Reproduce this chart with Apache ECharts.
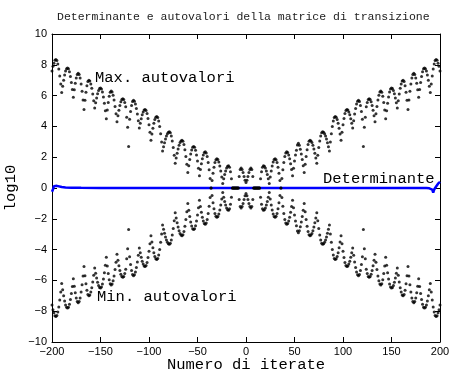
<!DOCTYPE html>
<html><head><meta charset="utf-8">
<script src="https://cdn.jsdelivr.net/npm/echarts@6/dist/echarts.min.js"></script>
<style>html,body{margin:0;padding:0;background:#fff}#c{width:449px;height:374px}</style>
</head><body><div id="c"></div>
<script>
// iterate numbers run from iterStart in steps of one
const iterStart = -200;
// log10 of the largest eigenvalue, one value per iterate (-200 .. 200)
const maxVals = [
7.6,7.9,8.1,8.3,8.35,8.28,8.06,7.72,7.28,6.76,
6.2,6.61,7.0,7.33,7.59,7.75,7.8,7.74,7.55,7.24,
6.85,6.39,5.9,6.38,6.81,7.15,7.37,7.45,7.37,7.14,
6.76,6.28,5.71,5.1,5.69,6.22,6.64,6.91,7.0,6.94,
6.76,6.47,6.1,5.67,5.2,5.54,5.85,6.12,6.33,6.46,
6.5,6.43,6.23,5.91,5.5,5.02,4.5,5.06,5.56,5.96,
6.21,6.3,6.23,6.03,5.71,5.3,4.82,4.3,4.69,5.05,
5.36,5.6,5.75,5.8,5.74,5.56,5.27,4.6,3.95,2.7,
4.46,4.96,5.36,5.61,5.7,5.64,5.46,5.17,4.8,4.37,
3.9,4.21,4.5,4.75,4.94,5.06,5.1,5.03,4.83,4.51,
4.1,3.62,3.1,3.5,3.88,4.2,4.44,4.6,4.65,4.57,
4.35,3.99,3.53,2.98,2.4,2.68,2.94,3.18,3.38,3.53,
3.62,3.65,3.58,3.38,3.05,2.63,2.13,1.6,1.94,2.25,
2.54,2.77,2.95,3.06,3.1,3.03,2.82,2.48,2.05,1.54,
1.0,1.44,1.85,2.2,2.47,2.64,2.7,2.64,2.45,2.14,
1.75,1.29,0.8,1.2,1.58,1.9,2.14,2.3,2.35,2.27,
2.04,1.66,1.18,0.61,0,0.49,0.95,1.34,1.65,1.84,
1.9,1.85,1.69,1.43,1.1,0.71,0.3,0.6,0.88,1.11,
1.3,1.41,1.45,1.35,1.05,0.6,0,0,0,0,
0,0,0,0.75,1.2,1.3,1.2,1.0,0.75,0.5,
0.35,
0.5,0.75,1.0,1.2,1.3,1.2,0.75,0,0,0,
0,0,0,0,0.6,1.05,1.35,1.45,1.41,1.3,
1.11,0.88,0.6,0.3,0.71,1.1,1.43,1.69,1.85,1.9,
1.84,1.65,1.34,0.95,0.49,0,0.61,1.18,1.66,2.04,
2.27,2.35,2.3,2.14,1.9,1.58,1.2,0.8,1.29,1.75,
2.14,2.45,2.8,2.9,2.78,2.52,2.2,1.85,1.44,1.0,
1.54,2.05,2.48,2.82,3.03,3.1,3.06,2.95,2.77,2.54,
2.25,1.94,1.6,2.13,2.63,3.05,3.38,3.58,3.65,3.62,
3.53,3.38,3.18,2.94,2.68,2.4,2.98,3.53,3.99,4.35,
4.57,4.65,4.6,4.44,4.2,3.88,3.5,3.1,3.62,4.1,
4.51,4.83,5.03,5.1,5.06,4.94,4.75,4.5,4.21,3.9,
4.37,4.8,5.17,5.46,5.64,5.7,5.61,5.36,4.96,4.46,
2.7,3.95,4.6,5.27,5.56,5.74,5.8,5.75,5.6,5.36,
5.05,4.69,4.3,4.82,5.3,5.71,6.03,6.23,6.3,6.21,
5.96,5.56,5.06,4.5,5.02,5.5,5.91,6.23,6.43,6.5,
6.46,6.33,6.12,5.85,5.54,5.2,5.67,6.1,6.47,6.76,
6.94,7.0,6.91,6.64,6.22,5.69,5.1,5.71,6.28,6.76,
7.14,7.37,7.45,7.37,7.15,6.81,6.38,5.9,6.39,6.85,
7.24,7.55,7.74,7.8,7.75,7.59,7.33,7.0,6.61,6.2,
6.76,7.28,7.72,8.06,8.28,8.35,8.3,8.1,7.9,7.6
];
// log10 of the smallest eigenvalue, one value per iterate (-200 .. 200)
const minVals = [
-7.6,-7.9,-8.1,-8.3,-8.35,-8.28,-8.06,-7.72,-7.28,-6.76,
-6.2,-6.61,-7.0,-7.33,-7.59,-7.75,-7.8,-7.74,-7.55,-7.24,
-6.85,-6.39,-5.9,-6.38,-6.81,-7.15,-7.37,-7.45,-7.37,-7.14,
-6.76,-6.28,-5.71,-5.1,-5.69,-6.22,-6.64,-6.91,-7.0,-6.94,
-6.76,-6.47,-6.1,-5.67,-5.2,-5.54,-5.85,-6.12,-6.33,-6.46,
-6.5,-6.43,-6.23,-5.91,-5.5,-5.02,-4.5,-5.06,-5.56,-5.96,
-6.21,-6.3,-6.23,-6.03,-5.71,-5.3,-4.82,-4.3,-4.69,-5.05,
-5.36,-5.6,-5.75,-5.8,-5.74,-5.56,-5.27,-4.6,-3.95,-2.7,
-4.46,-4.96,-5.36,-5.61,-5.7,-5.64,-5.46,-5.17,-4.8,-4.37,
-3.9,-4.21,-4.5,-4.75,-4.94,-5.06,-5.1,-5.03,-4.83,-4.51,
-4.1,-3.62,-3.1,-3.5,-3.88,-4.2,-4.44,-4.6,-4.65,-4.57,
-4.35,-3.99,-3.53,-2.98,-2.4,-2.68,-2.94,-3.18,-3.38,-3.53,
-3.62,-3.65,-3.58,-3.38,-3.05,-2.63,-2.13,-1.6,-1.94,-2.25,
-2.54,-2.77,-2.95,-3.06,-3.1,-3.03,-2.82,-2.48,-2.05,-1.54,
-1.0,-1.44,-1.85,-2.2,-2.47,-2.64,-2.7,-2.64,-2.45,-2.14,
-1.75,-1.29,-0.8,-1.2,-1.58,-1.9,-2.14,-2.3,-2.35,-2.27,
-2.04,-1.66,-1.18,-0.61,0,-0.49,-0.95,-1.34,-1.65,-1.84,
-1.9,-1.85,-1.69,-1.43,-1.1,-0.71,-0.3,-0.6,-0.88,-1.11,
-1.3,-1.41,-1.45,-1.35,-1.05,-0.6,0,0,0,0,
0,0,0,-0.75,-1.2,-1.3,-1.2,-1.0,-0.75,-0.5,
-0.35,
-0.5,-0.75,-1.0,-1.2,-1.3,-1.2,-0.75,0,0,0,
0,0,0,0,-0.6,-1.05,-1.35,-1.45,-1.41,-1.3,
-1.11,-0.88,-0.6,-0.3,-0.71,-1.1,-1.43,-1.69,-1.85,-1.9,
-1.84,-1.65,-1.34,-0.95,-0.49,0,-0.61,-1.18,-1.66,-2.04,
-2.27,-2.35,-2.3,-2.14,-1.9,-1.58,-1.2,-0.8,-1.29,-1.75,
-2.14,-2.45,-2.8,-2.9,-2.78,-2.52,-2.2,-1.85,-1.44,-1.0,
-1.54,-2.05,-2.48,-2.82,-3.03,-3.1,-3.06,-2.95,-2.77,-2.54,
-2.25,-1.94,-1.6,-2.13,-2.63,-3.05,-3.38,-3.58,-3.65,-3.62,
-3.53,-3.38,-3.18,-2.94,-2.68,-2.4,-2.98,-3.53,-3.99,-4.35,
-4.57,-4.65,-4.6,-4.44,-4.2,-3.88,-3.5,-3.1,-3.62,-4.1,
-4.51,-4.83,-5.03,-5.1,-5.06,-4.94,-4.75,-4.5,-4.21,-3.9,
-4.37,-4.8,-5.17,-5.46,-5.64,-5.7,-5.61,-5.36,-4.96,-4.46,
-2.7,-3.95,-4.6,-5.27,-5.56,-5.74,-5.8,-5.75,-5.6,-5.36,
-5.05,-4.69,-4.3,-4.82,-5.3,-5.71,-6.03,-6.23,-6.3,-6.21,
-5.96,-5.56,-5.06,-4.5,-5.02,-5.5,-5.91,-6.23,-6.43,-6.5,
-6.46,-6.33,-6.12,-5.85,-5.54,-5.2,-5.67,-6.1,-6.47,-6.76,
-6.94,-7.0,-6.91,-6.64,-6.22,-5.69,-5.1,-5.71,-6.28,-6.76,
-7.14,-7.37,-7.45,-7.37,-7.15,-6.81,-6.38,-5.9,-6.39,-6.85,
-7.24,-7.55,-7.74,-7.8,-7.75,-7.59,-7.33,-7.0,-6.61,-6.2,
-6.76,-7.28,-7.72,-8.06,-8.28,-8.35,-8.3,-8.1,-7.9,-7.6
];
// log10 of the determinant
const detIter = [-200,-199,-198,-197,-196,-195,-193,-190,-186,-180,-170,-150,-100,-50,0,50,100,150,170,180,186,189,191,192,193,194,195,196,197,198,199,200];
const detVals = [-0.25,-0.1,0.12,0.2,0.18,0.14,0.1,0.06,0.04,0.02,0.01,0,0,0,0,0,0,0,0,0,0,-0.02,-0.06,-0.1,-0.3,-0.1,0.0,0.1,0.2,0.28,0.35,0.4];
// axis ranges and tick steps
const xRange = [-200, 200], xStep = 50;
const yRange = [-10, 10], yStep = 2;
const titleText = 'Determinante e autovalori della matrice di transizione';
const xName = 'Numero di iterate';
const yName = 'log10';
const labelMax = 'Max. autovalori';
const labelMin = 'Min. autovalori';
const labelDet = 'Determinante';

const maxData = maxVals.map((v, i) => [iterStart + i, v]);
const minData = minVals.map((v, i) => [iterStart + i, v]);
const detData = detIter.map((x, i) => [x, detVals[i]]);

const mono = '"Liberation Mono", "Courier New", monospace';
const sans = '"Liberation Sans", Arial, Helvetica, sans-serif';
const minusFmt = v => String(v).replace('-', '\u2212');

const axLine = {show: true, onZero: false, lineStyle: {color: '#000', width: 1}};
const axTick = {show: true, inside: true, length: 5, lineStyle: {color: '#000', width: 1}};

const chart = echarts.init(document.getElementById('c'), null, {renderer: 'canvas'});
chart.setOption({
  animation: false,
  backgroundColor: '#fff',
  title: {
    text: titleText, left: 57, top: 11, padding: 0,
    textStyle: {fontFamily: mono, fontSize: 11.5, fontWeight: 'normal', color: '#222'}
  },
  grid: {left: 52, right: 9, top: 34, bottom: 32, containLabel: false, outerBoundsMode: 'none'},
  xAxis: [
    {type: 'value', min: xRange[0], max: xRange[1], interval: xStep, position: 'bottom',
     axisLine: axLine, axisTick: axTick, splitLine: {show: false},
     axisLabel: {color: '#000', fontFamily: sans, fontSize: 11, margin: 4, formatter: minusFmt},
     name: xName, nameLocation: 'middle', nameGap: 15, nameMoveOverlap: false,
     nameTextStyle: {fontFamily: mono, fontSize: 15.5, color: '#000'}},
    {type: 'value', min: xRange[0], max: xRange[1], interval: xStep, position: 'top',
     axisLine: axLine, axisTick: axTick, splitLine: {show: false}, axisLabel: {show: false}}
  ],
  yAxis: [
    {type: 'value', min: yRange[0], max: yRange[1], interval: yStep, position: 'left',
     axisLine: axLine, axisTick: axTick, splitLine: {show: false},
     axisLabel: {color: '#000', fontFamily: sans, fontSize: 11, margin: 5, formatter: minusFmt},
     name: yName, nameLocation: 'middle', nameGap: 33, nameRotate: 90, nameMoveOverlap: false,
     nameTextStyle: {fontFamily: mono, fontSize: 15.5, color: '#000'}},
    {type: 'value', min: yRange[0], max: yRange[1], interval: yStep, position: 'right',
     axisLine: axLine, axisTick: axTick, splitLine: {show: false}, axisLabel: {show: false}}
  ],
  series: [
    {type: 'line', name: labelDet, data: detData, xAxisIndex: 0, yAxisIndex: 0,
     showSymbol: false, lineStyle: {color: '#0000ff', width: 2.5}, z: 2},
    {type: 'scatter', name: labelMax, data: maxData, xAxisIndex: 0, yAxisIndex: 0,
     symbol: 'circle', symbolSize: 3, itemStyle: {color: '#000'}, z: 3},
    {type: 'scatter', name: labelMin, data: minData, xAxisIndex: 0, yAxisIndex: 0,
     symbol: 'circle', symbolSize: 3, itemStyle: {color: '#000'}, z: 3}
  ],
  graphic: [
    {type: 'text', left: 95, top: 70, z: 10, style: {text: labelMax, font: '15.5px ' + mono, fill: '#000'}},
    {type: 'text', left: 97, top: 289, z: 10, style: {text: labelMin, font: '15.5px ' + mono, fill: '#000'}},
    {type: 'text', left: 323, top: 171, z: 10, style: {text: labelDet, font: '15.5px ' + mono, fill: '#000'}}
  ]
});
</script>
</body></html>
